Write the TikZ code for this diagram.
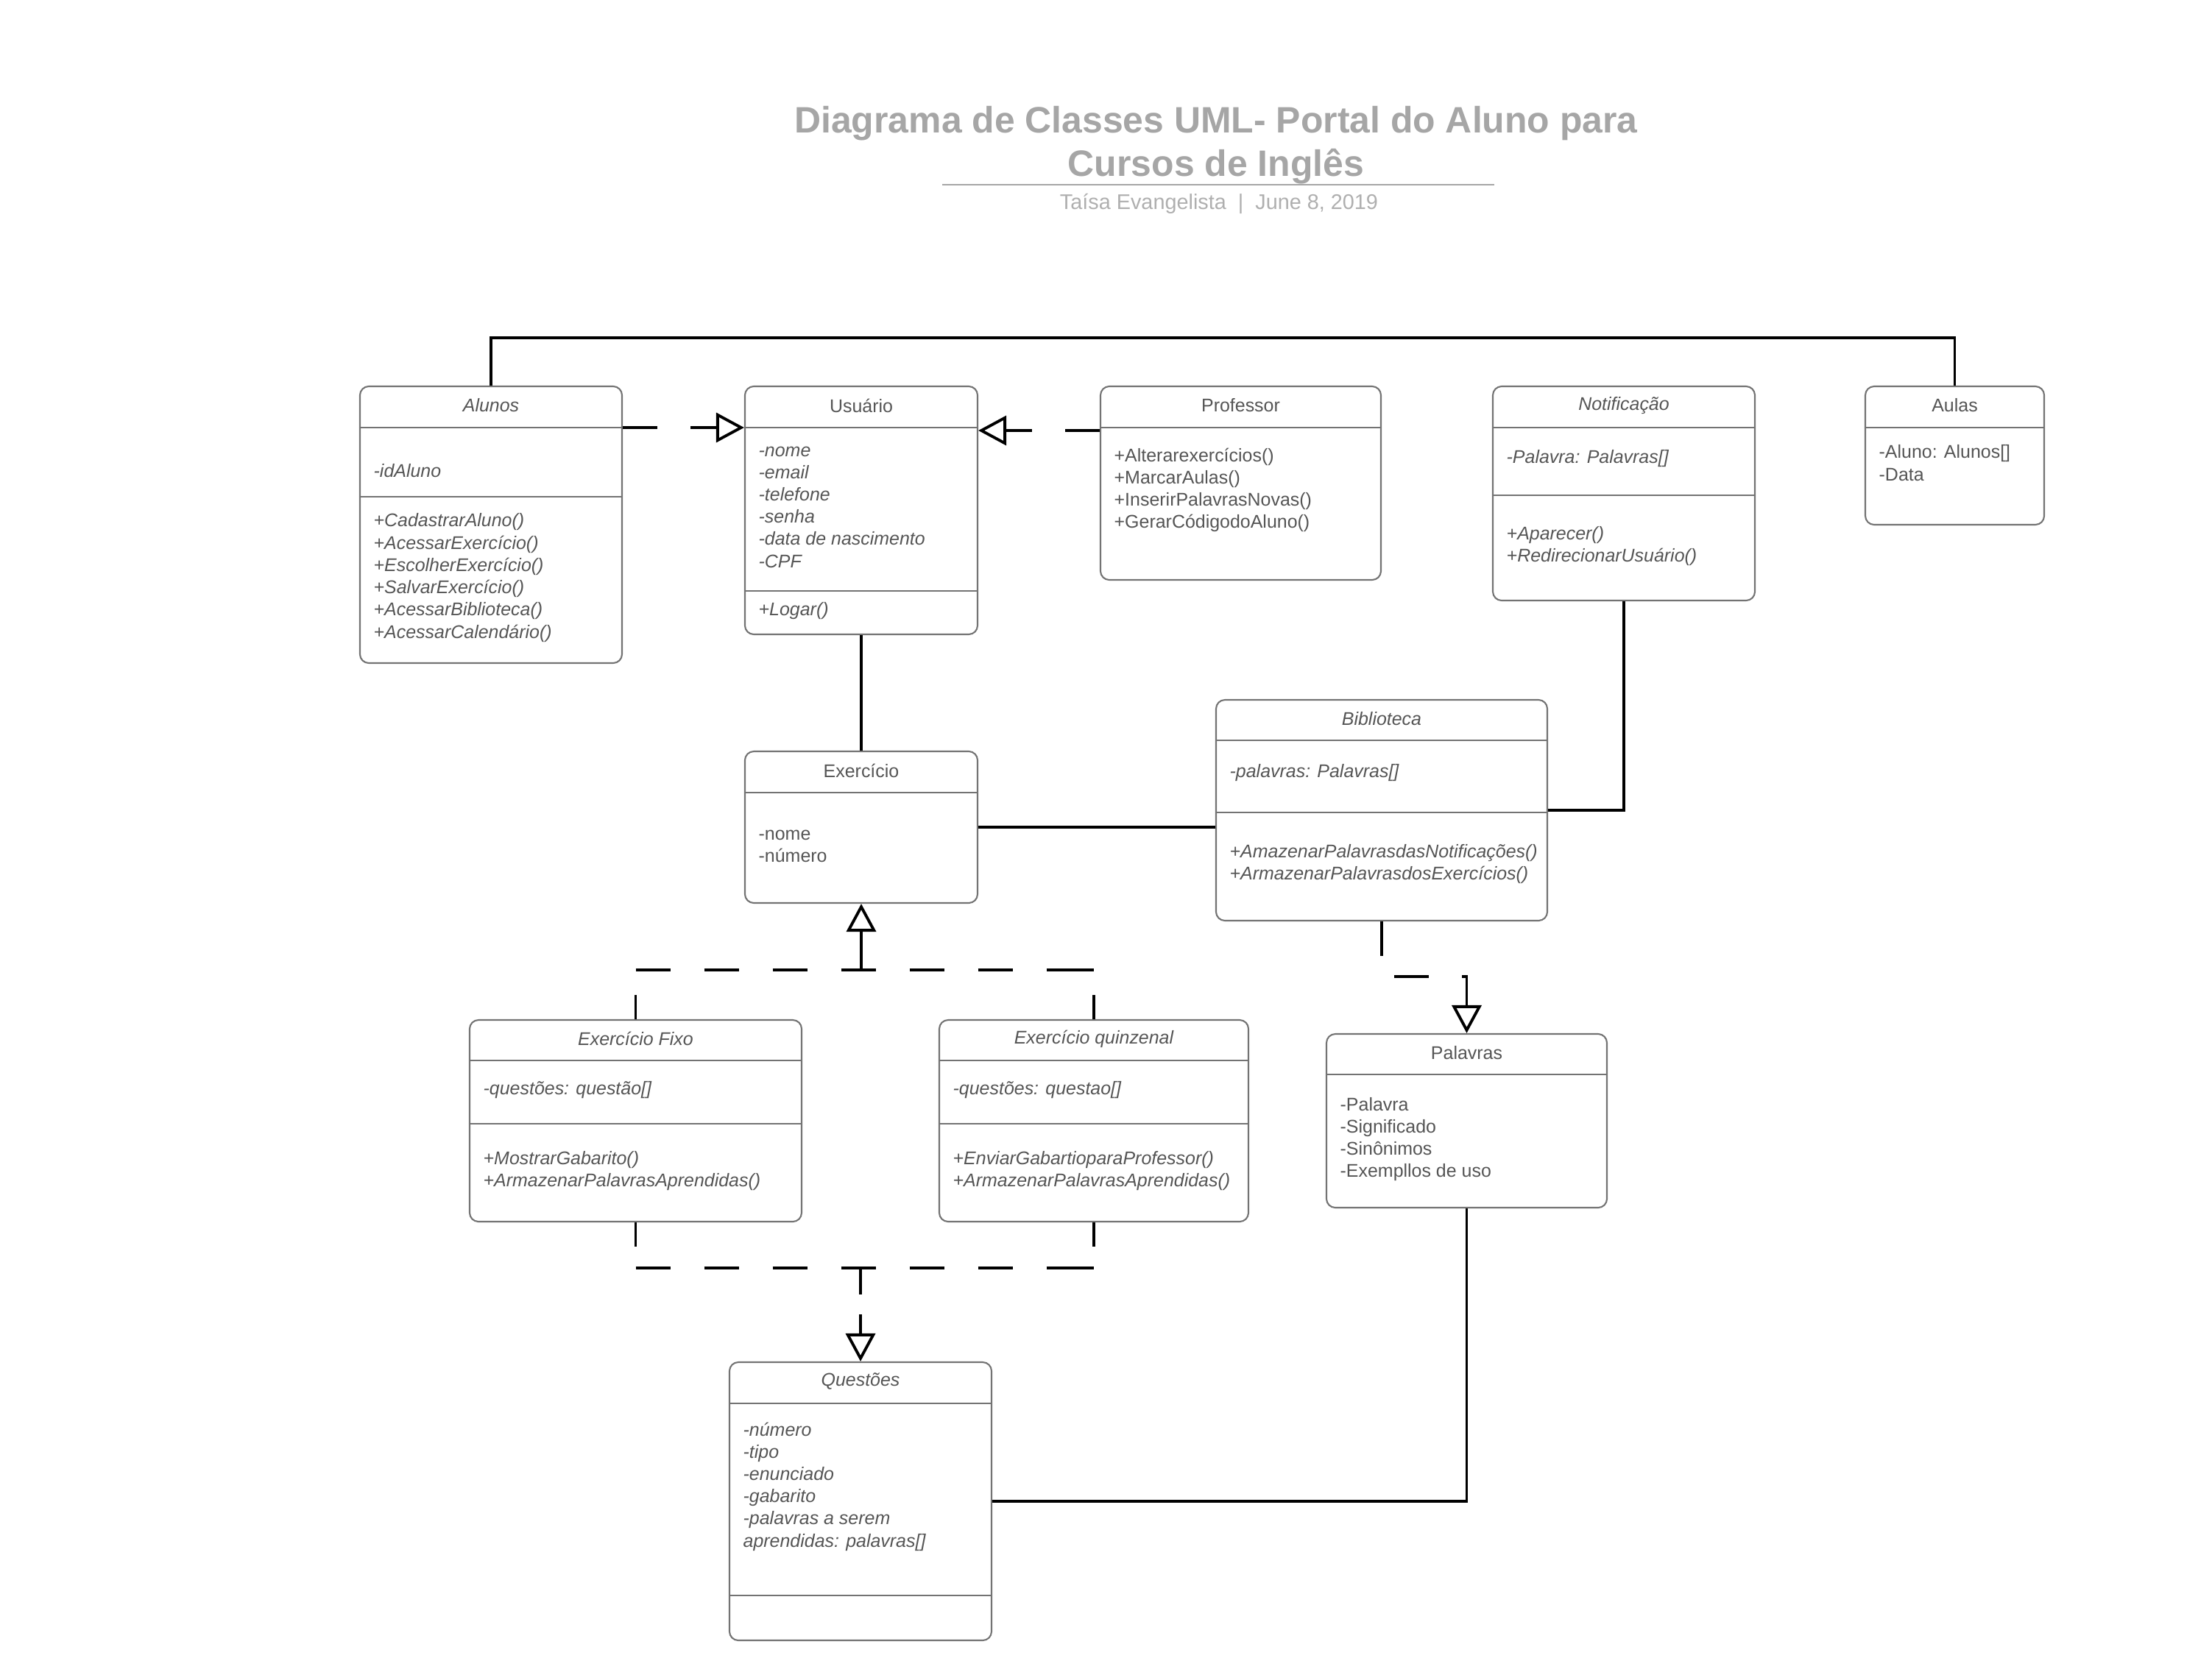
\documentclass[tikz,border=0pt]{standalone}
\usepackage{fontspec}
\setmainfont{Liberation Sans}
\usetikzlibrary{arrows.meta,fit,positioning}
\definecolor{txtgray}{RGB}{85,85,85}
\definecolor{boxgray}{RGB}{115,115,115}
\definecolor{titlegray}{RGB}{166,166,166}
\definecolor{subgray}{RGB}{175,175,175}

\begin{document}
\begin{tikzpicture}[
    classbox/.style={draw=boxgray, line width=0.6pt, rounded corners=0.12cm, inner sep=0pt},
    sepline/.style={draw=boxgray, line width=0.6pt},
    classname/.style={font=\fontsize{7.1}{8.6}\selectfont, text=txtgray, inner sep=0pt},
    members/.style={font=\fontsize{7.1}{8.6}\selectfont, text=txtgray, align=left, inner sep=0pt, anchor=west, xshift=0.19cm},
    ital/.style={font=\fontsize{7.1}{8.6}\selectfont\itshape},
    link/.style={line width=1.1pt},
    dashlink/.style={link, dash pattern=on 0.47cm off 0.45cm},
    joinline/.style={link, dash pattern=on 0.47cm off 0.46cm on 0.47cm off 0.46cm on 0.47cm off 0.46cm
        on 0.47cm off 0.46cm on 0.47cm off 0.46cm on 0.47cm off 0.46cm on 0.7cm off 1cm},
    stub/.style={link, dash pattern=on 0.33cm off 1cm},
    realize/.style={-{Triangle[open, length=0.38cm, width=0.40cm]}}
]
    \useasboundingbox (0,0) rectangle (30.05,-22.71);

    % title
    \node[font=\fontsize{14.2}{16.8}\selectfont\bfseries, text=titlegray, align=center] (title) at (16.52,-1.97)
        {Diagrama de Classes UML- Portal do Aluno para\\Cursos de Inglês};
    \draw[titlegray, line width=0.8pt] (12.80,-2.51) -- (20.30,-2.51);
    \node[font=\fontsize{8.2}{10}\selectfont, text=subgray] (author) at (16.56,-2.77)
        {Taísa Evangelista~~|~~June 8, 2019};

    % class boxes
    \node[classbox, fit={(4.89,-5.25) (8.45,-9.01)}] (alunos) {};
    \node[classbox, fit={(10.12,-5.25) (13.28,-8.62)}] (usuario) {};
    \node[classbox, fit={(14.95,-5.25) (18.76,-7.88)}] (professor) {};
    \node[classbox, fit={(20.28,-5.25) (23.84,-8.16)}] (notificacao) {};
    \node[classbox, fit={(25.34,-5.25) (27.77,-7.13)}] (aulas) {};
    \node[classbox, fit={(10.12,-10.21) (13.28,-12.27)}] (exercicio) {};
    \node[classbox, fit={(16.52,-9.51) (21.02,-12.51)}] (biblioteca) {};
    \node[classbox, fit={(6.38,-13.86) (10.89,-16.60)}] (fixo) {};
    \node[classbox, fit={(12.76,-13.86) (16.96,-16.60)}] (quinzenal) {};
    \node[classbox, fit={(18.02,-14.05) (21.83,-16.41)}] (palavras) {};
    \node[classbox, fit={(9.91,-18.51) (13.47,-22.29)}] (questoes) {};

    \foreach \n/\y in {alunos/5.81, alunos/6.75, usuario/5.81, usuario/8.03, professor/5.81,
        notificacao/5.81, notificacao/6.73, aulas/5.81, exercicio/10.77, biblioteca/10.06,
        biblioteca/11.04, fixo/14.41, fixo/15.27, quinzenal/14.41, quinzenal/15.27,
        palavras/14.60, questoes/19.07, questoes/21.68}
        \draw[sepline] (\n.west |- 0,-\y) -- (\n.east |- 0,-\y);

    % class texts
    \node[classname, ital] (alunosN) at (alunos.north |- 0,-5.51) {Alunos};
    \node[members, ital] (alunosA) at (alunos.west |- 0,-6.40) {-idAluno};
    \node[members, ital] (alunosM) at (alunos.west |- 0,-7.85) {+CadastrarAluno()\\+AcessarExercício()\\+EscolherExercício()\\+SalvarExercício()\\+AcessarBiblioteca()\\+AcessarCalendário()};

    \node[classname] (usuarioN) at (usuario.north |- 0,-5.51) {Usuário};
    \node[members, ital] (usuarioA) at (usuario.west |- 0,-6.89) {-nome\\-email\\-telefone\\-senha\\-data de nascimento\\-CPF};
    \node[members, ital] (usuarioM) at (usuario.west |- 0,-8.30) {+Logar()};

    \node[classname] (professorN) at (professor.north |- 0,-5.51) {Professor};
    \node[members] (professorM) at (professor.west |- 0,-6.66) {+Alterarexercícios()\\+MarcarAulas()\\+InserirPalavrasNovas()\\+GerarCódigodoAluno()};

    \node[classname, ital] (notificacaoN) at (notificacao.north |- 0,-5.51) {Notificação};
    \node[members, ital] (notificacaoA) at (notificacao.west |- 0,-6.23) {-Palavra: Palavras[]};
    \node[members, ital] (notificacaoM) at (notificacao.west |- 0,-7.42) {+Aparecer()\\+RedirecionarUsuário()};

    \node[classname] (aulasN) at (aulas.north |- 0,-5.51) {Aulas};
    \node[members] (aulasA) at (aulas.west |- 0,-6.29) {-Aluno: Alunos[]\\-Data};

    \node[classname] (exercicioN) at (exercicio.north |- 0,-10.47) {Exercício};
    \node[members] (exercicioA) at (exercicio.west |- 0,-11.50) {-nome\\-número};

    \node[classname, ital] (bibliotecaN) at (biblioteca.north |- 0,-9.765) {Biblioteca};
    \node[members, ital] (bibliotecaA) at (biblioteca.west |- 0,-10.50) {-palavras: Palavras[]};
    \node[members, ital] (bibliotecaM) at (biblioteca.west |- 0,-11.74) {+AmazenarPalavrasdasNotificações()\\+ArmazenarPalavrasdosExercícios()};

    \node[classname, ital] (fixoN) at (fixo.north |- 0,-14.115) {Exercício Fixo};
    \node[members, ital] (fixoA) at (fixo.west |- 0,-14.81) {-questões: questão[]};
    \node[members, ital] (fixoM) at (fixo.west |- 0,-15.91) {+MostrarGabarito()\\+ArmazenarPalavrasAprendidas()};

    \node[classname, ital] (quinzenalN) at (quinzenal.north |- 0,-14.115) {Exercício quinzenal};
    \node[members, ital] (quinzenalA) at (quinzenal.west |- 0,-14.81) {-questões: questao[]};
    \node[members, ital] (quinzenalM) at (quinzenal.west |- 0,-15.91) {+EnviarGabartioparaProfessor()\\+ArmazenarPalavrasAprendidas()};

    \node[classname] (palavrasN) at (palavras.north |- 0,-14.305) {Palavras};
    \node[members] (palavrasA) at (palavras.west |- 0,-15.48) {-Palavra\\-Significado\\-Sinônimos\\-Exempllos de uso};

    \node[classname, ital] (questoesN) at (questoes.north |- 0,-18.77) {Questões};
    \node[members, ital] (questoesA) at (questoes.west |- 0,-20.20) {-número\\-tipo\\-enunciado\\-gabarito\\-palavras a serem\\aprendidas: palavras[]};

    % connectors
    \draw[link] (alunos.north) -- ++(0,0.65) -| (aulas.north);
    \draw[dashlink, realize] (alunos.east |- 0,-5.81) -- (usuario.west |- 0,-5.81);
    \draw[dashlink, realize] (professor.west |- 0,-5.85) -- (usuario.east |- 0,-5.85);
    \draw[link] (usuario.south) -- (exercicio.north);
    \draw[link] (exercicio.east) -- (biblioteca.west |- exercicio.east);
    \draw[link] (notificacao.south) |- (biblioteca.east);
    \draw[dashlink, realize] (biblioteca.south) -- ++(0,-0.75) -| (palavras.north);

    % generalizations to Exercicio
    \coordinate (upJoin) at (exercicio.south |- 0,-13.18);
    \draw[stub] (fixo.north) -- (fixo.north |- upJoin);
    \draw[stub] (quinzenal.north) -- (quinzenal.north |- upJoin);
    \draw[joinline] (fixo.north |- upJoin) -- (quinzenal.north |- upJoin);
    \draw[link, realize] (upJoin) -- (exercicio.south);

    % generalizations to Questoes
    \coordinate (downJoin) at (questoes.north |- 0,-17.23);
    \draw[stub] (fixo.south) -- (fixo.south |- downJoin);
    \draw[stub] (quinzenal.south) -- (quinzenal.south |- downJoin);
    \draw[joinline] (fixo.south |- downJoin) -- (quinzenal.south |- downJoin);
    \draw[link, dash pattern=on 0.36cm off 0.27cm, realize] (downJoin) -- (questoes.north);

    \draw[link] (palavras.south) |- (questoes.east);
\end{tikzpicture}
\end{document}
